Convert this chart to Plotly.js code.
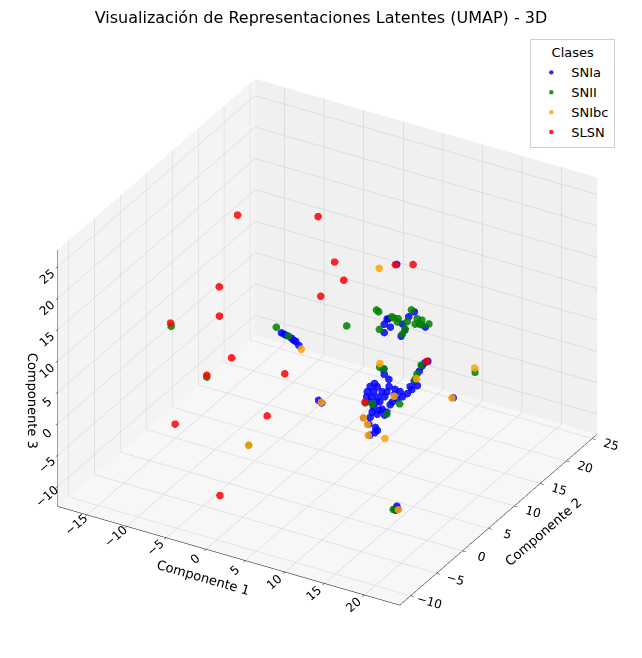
<!DOCTYPE html>
<html>
<head>
<meta charset="utf-8">
<script src="https://cdn.plot.ly/plotly-3.0.1.min.js"></script>
<style>
  html, body { margin: 0; padding: 0; background: #fff; }
  #chart { width: 642px; height: 658px; }
</style>
</head>
<body>
<div id="chart"></div>
<script>
// UMAP 3D latent points
var classNames = ['SNIa', 'SNII', 'SNIbc', 'SLSN'];
var classColors = ['blue', 'green', 'orange', 'red'];

var snIaX = [-0.6, 0.2, 0.6, 1.0, 1.4, -0.2, 0.8, 4.8, 5.4, 14.8, 15.1, 14.9, 15.0,
  9.7, 10.9, 11.8, 6.7, 6.6, 5.5,
  7.9, 8.2, 9.1, 9.9, 10.8, 11.1, 9.7, 9.7, 12.4, 8.0, 9.1,
  6.2, 6.8, 7.8, 6.9, 6.8, 7.7, 8.7, 8.5, 9.4, 9.4, 10.4, 10.5, 11.2, 8.1, 8.5,
  10.6, 10.7, 11.0, 11.1, 11.1, 11.2, 10.4, 9.8, 9.5, 9.4, 11.8, 12.3, 12.3, 8.6, 9.5, 10.2,
  7.1, 7.5, 9.3, 10.7, 10.3, 9.8, 7.6, 9.0, 10.0, 9.1, 11.3, 10.2, 10.6, 9.9];
var snIaY = [3.4, 3.2, 3.5, 3.7, 3.7, 3.3, 3.6, 2.3, 2.0, 1.7, 1.9, 2.0, 1.6,
  9.9, 14.1, 17.6, 9.1, 9.4, 9.9,
  10.8, 9.8, 8.4, 10.7, 9.8, 8.6, 13.3, 12.2, 11.3, 10.9, 9.6,
  12.7, 11.9, 11.3, 9.9, 9.2, 8.5, 7.8, 6.6, 7.1, 5.9, 6.0, 4.9, 5.7, 7.5, 8.9,
  7.7, 8.4, 9.0, 9.8, 10.7, 11.6, 12.2, 14.1, 15.1, 15.8, 2.6, 2.2, 1.7, 10.1, 9.9, 9.8,
  8.2, 9.5, 8.2, 7.1, 5.7, 5.0, 7.3, 9.1, 9.0, 6.9, 5.1, 4.0, 11.1, 13.1];
var snIaZ = [10, 10, 9.5, 9, 8.5, 10, 9.2, 2, 2, -11.3, -11.3, -11.0, -11.3,
  20, 2, -6, -6, -8, -6,
  10, 10, 10, 10, 10, 10, 10, 10, 10, 10, 10,
  0, 0, 0, 0, 0, 0, 0, 0, 0, 0, 0, 0, 0, 0, 0,
  0, 0, 0, 0, 0, 0, 0, 0, 0, 0, 0, 0, 0, 0, 0,
  0, 0, 0, 0, 0, 0, 0, 0, 0, 0, 0, 0, 0, 0];

var snIIX = [-16.3, -4.2, 5.4, 22.6, 6.7, 6.2, -1.0, -1.7, 0.4, 14.7,
  5.9, 6.3, 8.3, 8.4, 10.7, 11.0, 9.2, 10.7, 11.5, 11.1, 12.4, 8.1, 8.9, 11.3, 9.2, 10.1, 11.8,
  9.3, 9.9, 8.9, 11.4, 11.5, 10.3, 6.4];
var snIIY = [6.1, -5.5, 10.4, 5.3, 11.2, 5.6, -2.3, 4.1, 3.2, 1.6,
  11.8, 11.6, 8.7, 11.3, 10.0, 9.0, 13.5, 12.3, 11.5, 11.3, 12.0, 11.4, 11.4, 12.3, 10.8, 11.3, 11.5,
  15.2, 13.5, 6.4, 5.4, 7.7, 12.5, 12.5];
var snIIZ = [3.4, 8, -4, 10.8, 1.6, 12, -4, 10, 10, -11.3,
  10, 10, 10, 10, 10, 10, 10, 10, 10, 10, 10, 10, 10, 10, 10, 10, 10,
  0, 0, 0, 0, 0, 0, 0.3];

var snIbcX = [7.1, 22.1, 11.7, 5.5, 6.6, 6.5, 8.4, 6.6, 1.7, 5.3, 7.4, 15.2, 9.0, -1.0];
var snIbcY = [10.5, 6.0, 17.5, 9.9, 9.0, 9.3, 9.6, 11.4, 3.7, 2.1, 12.9, 1.8, 14.8, -2.3];
var snIbcZ = [18, 10.8, -6, -6, -6, -8, -8, 2, 8, 2, -4, -11.3, -2, -4];

var slsnX = [-6.8, -7.1, 0.8, 2.4, 2.3, 0.5, -7.4, -8.3, -16.7, -6.7, -4.4, -1.3, -1.1, -10.3, 0.6, 10.8, 5.3, 9.6];
var slsnY = [4.4, 20.4, 11.5, 24.2, 11.0, 9.3, 1.8, 3.2, 6.6, 3.1, -5.2, 5.1, 1.4, -2.3, -10.3, 14.0, 10.5, 9.8];
var slsnZ = [25.8, 14, 16, 7.1, 14, 12, 16, 10, 3.4, 4, 8, 2, -2, -4, -5.7, 2, -4, 20];

var xTicks = [-15, -10, -5, 0, 5, 10, 15, 20];
var yTicks = [-10, -5, 0, 5, 10, 15, 20, 25];
var zTicks = [-10, -5, 0, 5, 10, 15, 20, 25];

var seriesX = [snIaX, snIIX, snIbcX, slsnX];
var seriesY = [snIaY, snIIY, snIbcY, slsnY];
var seriesZ = [snIaZ, snIIZ, snIbcZ, slsnZ];

var data = [];
for (var i = 0; i < classNames.length; i++) {
  data.push({
    type: 'scatter3d',
    mode: 'markers',
    name: classNames[i],
    x: seriesX[i],
    y: seriesY[i],
    z: seriesZ[i],
    marker: { size: 4.4, color: classColors[i], line: { width: 0 } },
    opacity: 0.85
  });
}

var font = { family: 'DejaVu Sans, sans-serif', color: '#000' };

function axis(label, range, ticks, bg) {
  return {
    title: { text: label, font: { family: font.family, size: 13, color: '#000' } },
    range: range,
    tickvals: ticks,
    tickfont: { family: font.family, size: 12, color: '#000' },
    showbackground: true,
    backgroundcolor: bg,
    gridcolor: '#cccccc',
    showline: true,
    linecolor: '#000',
    linewidth: 1,
    zeroline: false,
    ticks: 'outside',
    tickcolor: '#000',
    ticklen: 4,
    showspikes: false
  };
}

// orthographic view: size is set through the aspect ratio
var zoom = 1.25;
var layout = {
  width: 642,
  height: 658,
  paper_bgcolor: '#fff',
  margin: { l: 0, r: 0, t: 0, b: 0 },
  font: font,
  title: {
    text: 'Visualización de Representaciones Latentes (UMAP) - 3D',
    font: { family: font.family, size: 16, color: '#000' },
    x: 0.5, xanchor: 'center',
    y: 0.973, yref: 'container', yanchor: 'middle'
  },
  showlegend: true,
  legend: {
    title: { text: 'Clases', side: 'top center', font: { family: font.family, size: 13 } },
    x: 0.826, y: 0.94, xanchor: 'left', yanchor: 'top',
    bgcolor: '#fff', bordercolor: '#d0d0d0', borderwidth: 1,
    font: { family: font.family, size: 13, color: '#000' },
    itemsizing: 'trace'
  },
  scene: {
    domain: { x: [0.02, 1], y: [0, 0.96] },
    aspectmode: 'manual',
    aspectratio: { x: zoom, y: zoom, z: 0.75 * zoom },
    camera: {
      eye: { x: 0.433 * 1.6, y: -0.75 * 1.6, z: 0.5 * 1.6 },
      up: { x: 0, y: 0, z: 1 },
      center: { x: 0, y: 0, z: 0 },
      projection: { type: 'orthographic' }
    },
    xaxis: axis('Componente 1', [-18.7, 24.5], xTicks, '#f4f4f4'),
    yaxis: axis('Componente 2', [-12.1, 26], yTicks, '#f0f0f0'),
    zaxis: axis('Componente 3', [-13.2, 27.7], zTicks, '#f7f7f7')
  }
};

Plotly.newPlot('chart', data, layout, { displayModeBar: false });
</script>
</body>
</html>
